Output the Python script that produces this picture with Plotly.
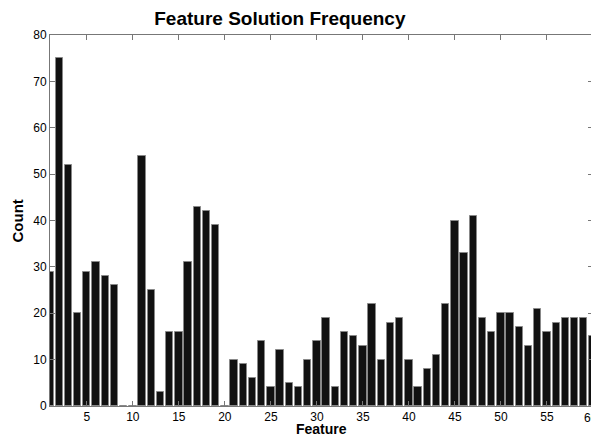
import plotly.graph_objects as go

features = list(range(1, 61))
counts = [29, 75, 52, 20, 29, 31, 28, 26, 0, 0,
          54, 25, 3, 16, 16, 31, 43, 42, 39, 0,
          10, 9, 6, 14, 4, 12, 5, 4, 10, 14,
          19, 4, 16, 15, 13, 22, 10, 18, 19, 10,
          4, 8, 11, 22, 40, 33, 41, 19, 16, 20,
          20, 17, 13, 21, 16, 18, 19, 19, 19, 15]
x_ticks = list(range(5, 61, 5))
y_ticks = list(range(0, 81, 10))

FONT = "Liberation Sans, Arial"

fig = go.Figure(go.Bar(
    x=features, y=counts, width=0.8,
    marker=dict(color="#111111", line=dict(color="#888888", width=1)),
))

axis_common = dict(
    showgrid=False, zeroline=False, showline=True, linecolor="#777777", linewidth=1,
    mirror="ticks", ticks="inside", ticklen=5, tickcolor="#777777", automargin=False,
    tickfont=dict(family=FONT, size=12, color="#000000"),
)

# page body has an 8px margin, so the figure is sized to fit the remaining window
fig.update_layout(
    width=591, height=429,
    margin=dict(l=42, r=6, t=27, b=31),
    paper_bgcolor="white", plot_bgcolor="white",
    title=dict(text="<b>Feature Solution Frequency</b>", x=0.46, xanchor="center",
               y=1 - 10 / 429, yref="container", yanchor="middle",
               font=dict(family=FONT, size=19, color="#000000")),
    xaxis=dict(range=[1, 60], tickvals=x_ticks, **axis_common),
    yaxis=dict(range=[0, 80], tickvals=y_ticks, **axis_common),
    showlegend=False, bargap=0,
)

# the last tick label sits on the figure edge; plotly drops it, so draw it explicitly
last_tick = x_ticks[-1]
fig.add_annotation(text=str(last_tick), xref="x", yref="paper", x=last_tick, y=0,
                   yshift=-12, xshift=-2, xanchor="center", yanchor="middle", showarrow=False,
                   borderpad=0, font=dict(family=FONT, size=12, color="#000000"))

fig.add_annotation(text="<b>Feature</b>", xref="paper", yref="paper", x=0.5, y=-0.063,
                   xanchor="center", yanchor="middle", showarrow=False, borderpad=0,
                   font=dict(family=FONT, size=14, color="#000000"))
fig.add_annotation(text="<b>Count</b>", xref="paper", yref="paper", x=-0.059, y=0.5,
                   xanchor="center", yanchor="middle", textangle=-90, showarrow=False,
                   borderpad=0, font=dict(family=FONT, size=15, color="#000000"))

fig.write_html("out.html")
